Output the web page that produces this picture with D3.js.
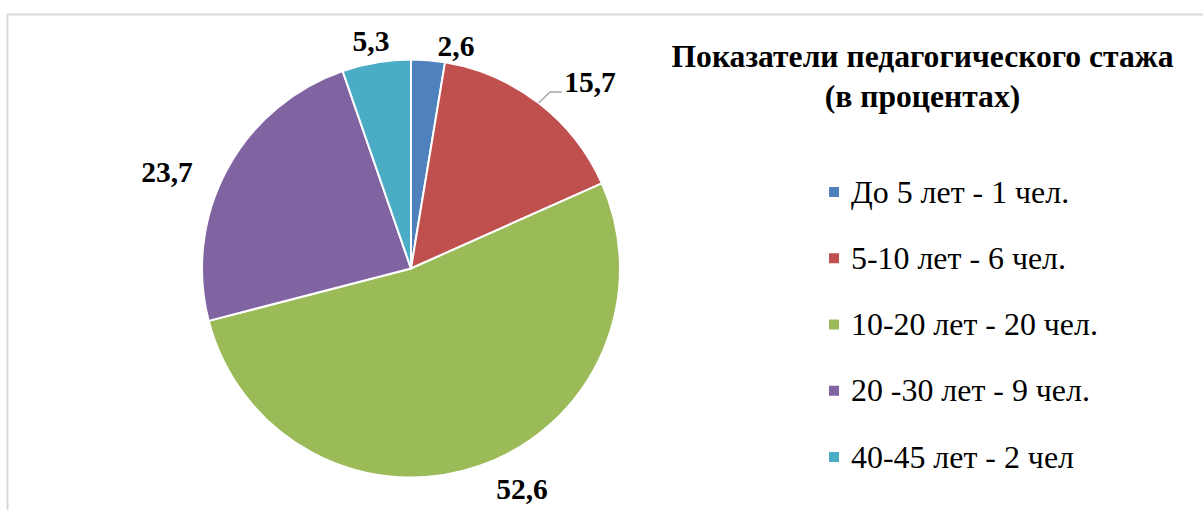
<!DOCTYPE html>
<html><head><meta charset="utf-8">
<script src="https://cdn.jsdelivr.net/npm/d3@7"></script>
<style>body{margin:0;background:#fff}svg{display:block}text{font-family:"Liberation Serif","Times New Roman",serif}</style>
</head><body>
<svg id="c" width="1203" height="510"></svg>
<script>
const categories = ["До 5 лет - 1 чел.", "5-10 лет - 6 чел.", "10-20 лет - 20 чел.", "20 -30 лет - 9 чел.", "40-45 лет - 2 чел"];
const values = [2.6, 15.7, 52.6, 23.7, 5.3];
const labels = ["2,6", "15,7", "52,6", "23,7", "5,3"];
const colors = ["#4f81bd", "#c0504d", "#9bbb59", "#8064a2", "#4bacc6"];
const titleLines = ["Показатели педагогического стажа", "(в процентах)"];

const svg = d3.select("#c");
svg.append("rect").attr("x",7.5).attr("y",14.5).attr("width",1200).attr("height",510)
  .attr("fill","#fff").attr("stroke","#d9d9d9").attr("stroke-width",2);

const cx = 411, cy = 268.5, r = 209;
const pie = d3.pie().sort(null).value(d=>d);
const arcs = pie(values);
const arc = d3.arc().innerRadius(0).outerRadius(r);
const g = svg.append("g").attr("transform",`translate(${cx},${cy})`);
g.selectAll("path").data(arcs).join("path")
  .attr("d",arc).attr("fill",(d,i)=>colors[i])
  .attr("stroke","#fff").attr("stroke-width",2).attr("stroke-linejoin","round");

const labelPos = [[45,-223],[179,-187],[111,220],[-244,-97],[-40,-228]];
g.selectAll("text.lbl").data(arcs).join("text").attr("class","lbl")
  .attr("x",(d,i)=>labelPos[i][0]).attr("y",(d,i)=>labelPos[i][1])
  .attr("text-anchor","middle").attr("dominant-baseline","central")
  .attr("font-weight","bold").attr("font-size",29.5).attr("fill","#000")
  .text((d,i)=>labels[i]);

const a1 = arcs[1];
const mid = (a1.startAngle + a1.endAngle)/2;
const p0 = [Math.sin(mid)*r, -Math.cos(mid)*r];
g.append("polyline")
  .attr("points",`${p0[0]},${p0[1]} ${139},${-176.5} ${151},${-176.5}`)
  .attr("fill","none").attr("stroke","#a6a6a6").attr("stroke-width",1.5);

const t = svg.append("text").attr("text-anchor","middle")
  .attr("font-weight","bold").attr("font-size",31.6).attr("fill","#000");
t.selectAll("tspan").data(titleLines).join("tspan")
  .attr("x",922.5).attr("y",(d,i)=>67+i*39.5).text(d=>d);

const ly = d3.scalePoint().domain(categories).range([192,457]);
const leg = svg.append("g").selectAll("g").data(categories).join("g")
  .attr("transform",d=>`translate(829,${ly(d)})`);
leg.append("rect").attr("x",0).attr("y",-5).attr("width",10).attr("height",10)
  .attr("fill",(d,i)=>colors[i]);
leg.append("text").attr("x",22).attr("y",0).attr("dominant-baseline","central")
  .attr("font-size",31.9).attr("fill","#000").text(d=>d);
</script>
</body></html>
